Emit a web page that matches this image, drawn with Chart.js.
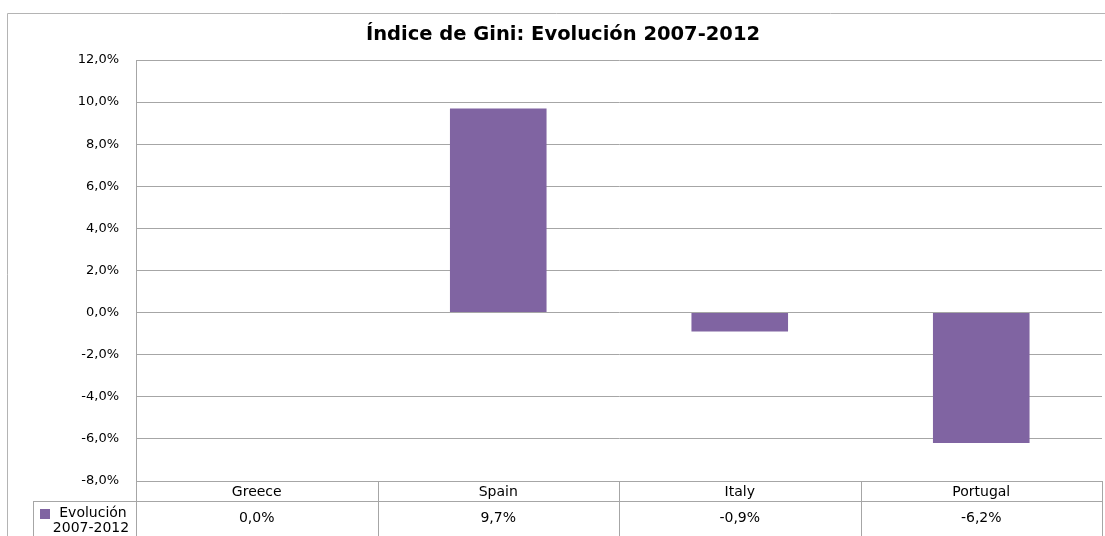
<!DOCTYPE html>
<html>
<head>
<meta charset="utf-8">
<title>Índice de Gini: Evolución 2007-2012</title>
<script src="https://cdn.jsdelivr.net/npm/chart.js@4"></script>
<style>
    html, body { margin: 0; padding: 0; background: #fff; }
    #wrap { width: 1105px; height: 536px; position: relative; }
</style>
</head>
<body>
<div id="wrap"><canvas id="gini_chart" width="1105" height="536"></canvas></div>
<script>
const countries = ["Greece", "Spain", "Italy", "Portugal"];
const evolucion = [0.0, 9.7, -0.9, -6.2];
const series_label = ["Evolución", "2007-2012"];
const chart_title = "Índice de Gini: Evolución 2007-2012";
const y_min = -8;
const y_max = 12;
const y_step = 2;

const BAR_COLOR = "#8064a2";
const LINE_COLOR = "#a6a6a6";
const FONT = "'DejaVu Sans', sans-serif";

const fmt = (v) => v.toFixed(1).replace(".", ",") + "%";

// title, outer frame and the data table under the plot
const tablePlugin = {
    id: "tablePlugin",
    afterDraw(chart) {
        const ctx = chart.ctx;
        const area = chart.chartArea;
        const x = chart.scales.x;
        const rowTop = area.bottom;
        const rowMid = area.bottom + 20;
        const rowEnd = chart.height;
        const legendLeft = 33;

        ctx.save();
        ctx.strokeStyle = "#b4b4b4";
        ctx.lineWidth = 1;
        ctx.beginPath();
        ctx.moveTo(7.5, chart.height);
        ctx.lineTo(7.5, 13.5);
        ctx.lineTo(chart.width, 13.5);
        ctx.stroke();

        ctx.fillStyle = "#000";
        ctx.font = "bold 19.5px " + FONT;
        ctx.textAlign = "center";
        ctx.textBaseline = "middle";
        ctx.fillText(chart_title, 563, 35);

        // table grid
        ctx.strokeStyle = LINE_COLOR;
        ctx.beginPath();
        ctx.moveTo(area.left, rowMid + 0.5);
        ctx.lineTo(area.right, rowMid + 0.5);
        ctx.moveTo(legendLeft, rowMid + 0.5);
        ctx.lineTo(area.left, rowMid + 0.5);
        ctx.moveTo(legendLeft + 0.5, rowMid);
        ctx.lineTo(legendLeft + 0.5, rowEnd);
        const colW = (area.right - area.left) / countries.length;
        for (let i = 0; i <= countries.length; i++) {
            const cx = Math.round(area.left + colW * i) + 0.5;
            ctx.moveTo(cx, rowTop);
            ctx.lineTo(cx, rowEnd);
        }
        ctx.stroke();

        ctx.fillStyle = "#000";
        ctx.font = "14px " + FONT;
        ctx.textAlign = "center";
        countries.forEach((c, i) => {
            const cx = x.getPixelForValue(i);
            ctx.fillText(c, cx, rowTop + 11);
            ctx.fillText(fmt(evolucion[i]), cx, rowMid + 17);
        });

        // legend key
        ctx.fillStyle = BAR_COLOR;
        ctx.fillRect(40, 509, 10, 10);
        ctx.fillStyle = "#000";
        ctx.fillText(series_label[0], 93, 513);
        ctx.fillText(series_label[1], 91, 528);
        ctx.restore();
    },
};

document.addEventListener("DOMContentLoaded", () => {
    const ctx = document.querySelector("#gini_chart");

    new Chart(ctx, {
        type: "bar",
        data: {
            labels: countries,
            datasets: [
                {
                    label: series_label.join(" "),
                    data: evolucion,
                    backgroundColor: BAR_COLOR,
                    borderWidth: 0,
                    barPercentage: 1,
                    categoryPercentage: 0.4,
                },
            ],
        },
        options: {
            responsive: false,
            animation: false,
            layout: {
                padding: { top: 60, bottom: 55, left: 0, right: 3 },
            },
            scales: {
                x: {
                    display: false,
                    grid: { display: false },
                },
                y: {
                    min: y_min,
                    max: y_max,
                    afterFit: (scale) => {
                        scale.width = 136;
                    },
                    border: { display: true, color: LINE_COLOR },
                    grid: {
                        color: LINE_COLOR,
                        drawTicks: false,
                    },
                    ticks: {
                        stepSize: y_step,
                        padding: 17,
                        color: "#000",
                        font: { family: FONT, size: 13 },
                        callback: (v) => fmt(v),
                    },
                },
            },
            plugins: {
                legend: { display: false },
                tooltip: { enabled: false },
            },
        },
        plugins: [tablePlugin],
    });
});
</script>
</body>
</html>
